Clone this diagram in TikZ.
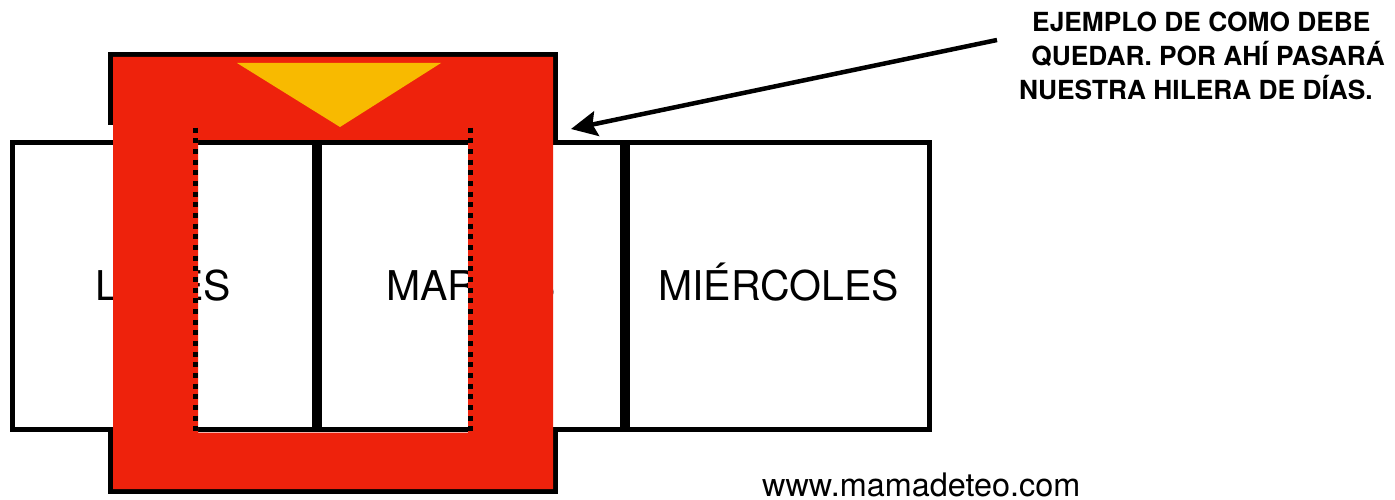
\documentclass[tikz,border=0pt]{standalone}
\usepackage{fontspec}
\newfontfamily\helv{TeX Gyre Heros}
\usetikzlibrary{arrows.meta}
\definecolor{framered}{HTML}{EE220C}
\definecolor{tabyellow}{HTML}{F8BA00}
\begin{document}
\begin{tikzpicture}[x=1pt,y=-1pt,
  frameline/.style={draw=black, line width=5pt, line join=miter, line cap=butt},
  daybox/.style={draw=black, fill=white, line width=5pt, minimum width=302.5pt, minimum height=287pt, inner sep=0pt, text height=29.4pt, text depth=0pt, font=\helv\fontsize{41}{49}\selectfont},
  foldline/.style={draw=black, line width=5pt, dash pattern=on 5pt off 5.67pt},
  pointer/.style={draw=black, line width=4.5pt, -{Stealth[length=26pt,width=25pt,inset=4pt]}},
  titletext/.style={inner sep=0pt, font=\helv\bfseries\fontsize{26.3}{30}\selectfont},
  webtext/.style={anchor=base west, inner sep=0pt, font=\helv\fontsize{32.4}{38}\selectfont}
]
\useasboundingbox (0,0) rectangle (1395,500);
% frame outline (visible parts)
\draw[frameline] (110.5,125) -- (110.5,54.5) -- (555.5,54.5) -- (555.5,142);
\draw[frameline] (110.5,430) -- (110.5,491.5) -- (555.5,491.5) -- (555.5,430);
% strip of days
\node[daybox] (lunes) at (163.5,286) {LUNES};
\node[daybox] (martes) at (471,286) {MARTES};
\node[daybox] (miercoles) at (778.5,286) {MIÉRCOLES};
% red frame with window
\fill[framered, even odd rule] (113,57) rectangle (553,489) (198,140) rectangle (468,432.5);
% yellow tab
\fill[tabyellow] (237,63) -- (441,63) -- (340,127) -- cycle;
% fold lines
\draw[foldline] (195.5,127.7) -- (195.5,435);
\draw[foldline] (470.5,127.7) -- (470.5,435);
% arrow
\coordinate (arrowtail) at (997,40);
\coordinate (arrowtip) at (571,129);
\draw[pointer] (arrowtail) -- (arrowtip);
% texts
\node[titletext, anchor=base west] (title1) at (1032,32) {EJEMPLO DE COMO DEBE};
\node[titletext, anchor=base east] (title2) at (1385,66) {QUEDAR. POR AHÍ PASARÁ};
\node[titletext, anchor=base west] (title3) at (1019,100) {NUESTRA HILERA DE DÍAS.};
\node[webtext] (website) at (762,496.5) {www.mamadeteo.com};
\end{tikzpicture}
\end{document}
